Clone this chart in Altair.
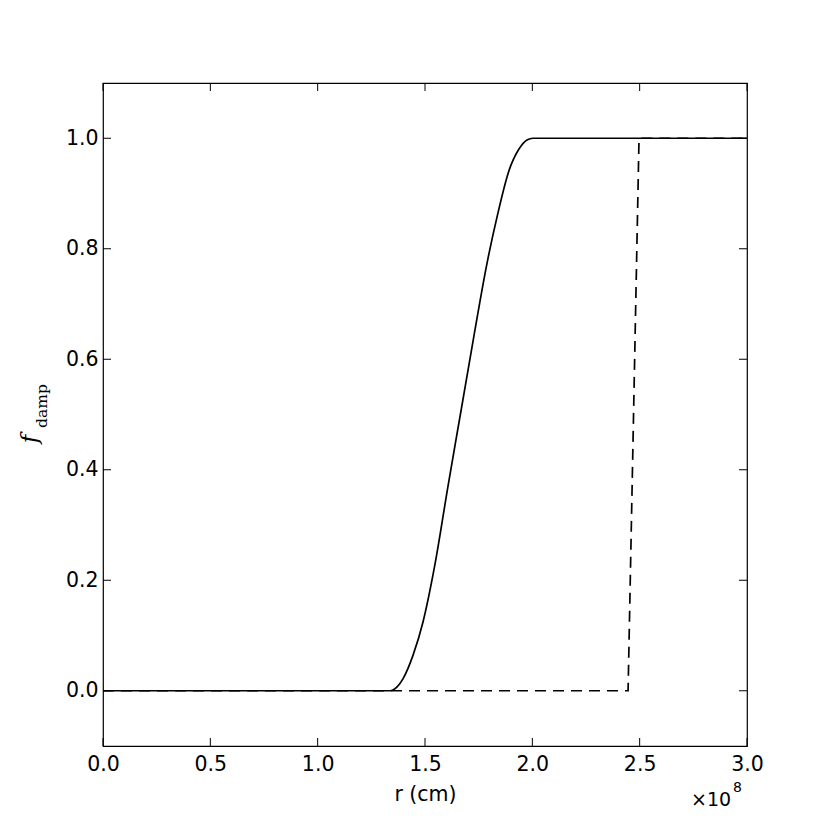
import altair as alt
import pandas as pd

# Solid curve (r in units of 1e8 cm)
solid_r = [0.0, 1.0, 1.337, 1.370, 1.398, 1.444, 1.491, 1.547, 1.607, 1.667, 1.727, 1.787, 1.837, 1.890, 1.937, 1.975, 2.003, 2.5, 3.0]
solid_f = [0.0, 0.0, 0.0, 0.007, 0.022, 0.064, 0.125, 0.230, 0.370, 0.505, 0.640, 0.770, 0.860, 0.940, 0.980, 0.997, 1.0, 1.0, 1.0]

# Dashed curve
dashed_r = [0.0, 2.446, 2.497, 3.0]
dashed_f = [0.0, 0.0, 1.0, 1.0]

x_ticks = [0.0, 0.5, 1.0, 1.5, 2.0, 2.5, 3.0]
y_ticks = [0.0, 0.2, 0.4, 0.6, 0.8, 1.0]

W, H = 644, 663
FONT = "DejaVu Sans"
FS = 20.5

solid_df = pd.DataFrame({"r": solid_r, "f": solid_f})
dashed_df = pd.DataFrame({"r": dashed_r, "f": dashed_f})
xt_df = pd.DataFrame({"r": x_ticks})
yt_df = pd.DataFrame({"f": y_ticks})

x_scale = alt.Scale(domain=[0, 3.0], nice=False, zero=False)
y_scale = alt.Scale(domain=[-0.1, 1.1], nice=False, zero=False)

x_axis = alt.Axis(values=x_ticks, format=".1f", tickSize=0, domain=False, grid=False,
                  labelFontSize=FS, labelFont=FONT, labelColor="black", labelPadding=8,
                  title="r (cm)", titleFont=FONT, titleFontSize=FS, titleFontWeight="normal",
                  titleColor="black", titlePadding=10, labelFlush=False)
y_axis = alt.Axis(values=y_ticks, format=".1f", tickSize=0, domain=False, grid=False,
                  labelFontSize=FS, labelFont=FONT, labelColor="black", labelPadding=5,
                  title=None)

X = alt.X("r:Q", scale=x_scale, axis=x_axis)
Y = alt.Y("f:Q", scale=y_scale, axis=y_axis)

solid = alt.Chart(solid_df).mark_line(color="black", strokeWidth=1.7, interpolate="monotone").encode(x=X, y=Y)
dashed = alt.Chart(dashed_df).mark_line(color="black", strokeWidth=1.7, strokeDash=[11, 7]).encode(x=X, y=Y)

xt_bottom = alt.Chart(xt_df).mark_rule(color="black", strokeWidth=1).encode(
    x=X, y=alt.value(H), y2=alt.value(H - 8))
xt_top = alt.Chart(xt_df).mark_rule(color="black", strokeWidth=1).encode(
    x=X, y=alt.value(0), y2=alt.value(8))
yt_left = alt.Chart(yt_df).mark_rule(color="black", strokeWidth=1).encode(
    y=Y, x=alt.value(0), x2=alt.value(8))
yt_right = alt.Chart(yt_df).mark_rule(color="black", strokeWidth=1).encode(
    y=Y, x=alt.value(W - 8), x2=alt.value(W))

ylab_f = alt.Chart(pd.DataFrame({"t": ["f"]})).mark_text(
    font="DejaVu Serif", fontStyle="italic", fontSize=23, angle=270,
    align="center", baseline="middle", color="black").encode(
    text="t:N", x=alt.value(-73), y=alt.value(356))
ylab_sub = alt.Chart(pd.DataFrame({"t": ["damp"]})).mark_text(
    font="DejaVu Serif", fontSize=15.5, angle=270,
    align="center", baseline="middle", color="black").encode(
    text="t:N", x=alt.value(-61), y=alt.value(323))

off_main = alt.Chart(pd.DataFrame({"t": ["×10"]})).mark_text(
    font=FONT, fontSize=19, align="left", baseline="alphabetic", color="black").encode(
    text="t:N", x=alt.value(588), y=alt.value(723))
off_exp = alt.Chart(pd.DataFrame({"t": ["8"]})).mark_text(
    font=FONT, fontSize=14, align="left", baseline="alphabetic", color="black").encode(
    text="t:N", x=alt.value(630), y=alt.value(709))

chart = alt.layer(
    solid, dashed, xt_bottom, xt_top, yt_left, yt_right,
    ylab_f, ylab_sub, off_main, off_exp
).properties(
    width=W, height=H,
    autosize=alt.AutoSizeParams(type="none"),
    padding={"left": 95, "top": 75, "right": 75, "bottom": 75},
    background="white",
).configure_view(stroke="black", strokeWidth=1.2)

chart.save("out.html", embed_options={"renderer": "svg", "actions": False})
